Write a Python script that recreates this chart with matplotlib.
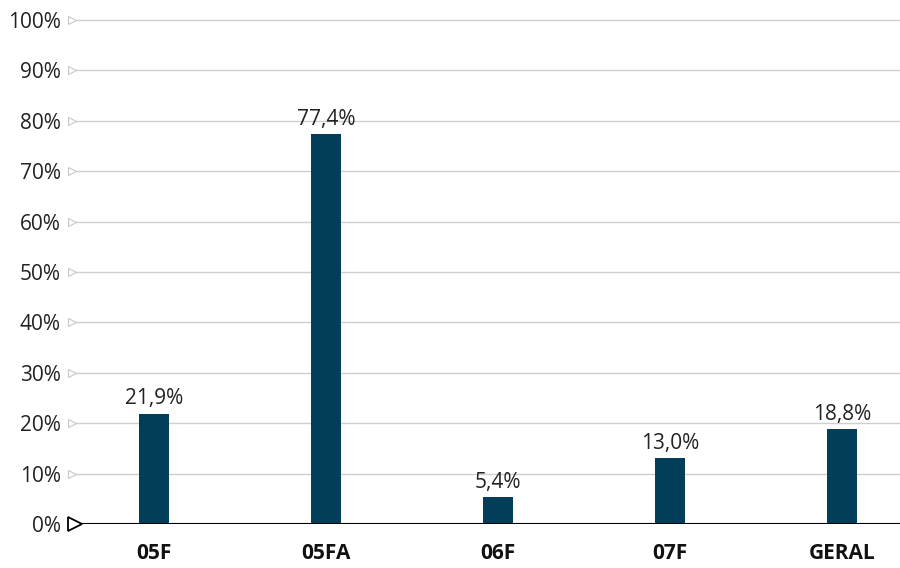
import matplotlib.pyplot as plt
from matplotlib import font_manager
from matplotlib.transforms import blended_transform_factory

# --------------------------------------------------------
# Data
# --------------------------------------------------------

CATEGORIES = ["05F", "05FA", "06F", "07F", "GERAL"]
VALUES = [21.9, 77.4, 5.4, 13.0, 18.8]
Y_TICKS = [0, 10, 20, 30, 40, 50, 60, 70, 80, 90, 100]

BAR_COLOR = "#023d59"
GRID_COLOR = "#cfcfcf"

names = {f.name for f in font_manager.fontManager.ttflist}
FONT = "Liberation Sans Narrow" if "Liberation Sans Narrow" in names else "Open Sans"
plt.rcParams["font.family"] = [FONT, "DejaVu Sans"]


def pct(v):
    return f"{v:.1f}".replace(".", ",") + "%"


fig = plt.figure(figsize=(9, 5.68), dpi=100)

ax_left = 76 / 900
ax_bottom = (568 - 524) / 568
ax_height = 504 / 568 * 1.01
ax = fig.add_axes([ax_left, ax_bottom, 1 - ax_left, ax_height])

x = list(range(len(CATEGORIES)))
bars = ax.bar(x, VALUES, width=0.175, color=BAR_COLOR, zorder=3)

for rect, v in zip(bars, VALUES):
    ax.annotate(pct(v), (rect.get_x() + rect.get_width() / 2, v),
                xytext=(0, 3), textcoords="offset points",
                ha="center", va="bottom", fontsize=15, color="#222222")

ax.set_xlim(-78 / 172, -78 / 172 + 824 / 172)
ax.set_ylim(0, 101)

ax.set_xticks(x)
ax.set_xticklabels(CATEGORIES, fontsize=15, fontweight="bold", color="#111111")
ax.set_yticks(Y_TICKS)
ax.set_yticklabels([f"{t}%" for t in Y_TICKS], fontsize=15, color="#222222")
ax.tick_params(axis="y", length=0, pad=11)
ax.tick_params(axis="x", length=0, pad=14)

for t in Y_TICKS[1:]:
    ax.axhline(t, color=GRID_COLOR, lw=1, zorder=1, clip_on=False)
ax.axhline(0, color="black", lw=1.5, zorder=4)

for s in ax.spines.values():
    s.set_visible(False)

# hollow triangle markers at each gridline
trans = blended_transform_factory(ax.transAxes, ax.transData)
ax.plot([-4 / 824] * (len(Y_TICKS) - 1), Y_TICKS[1:], ls="none", marker=">",
        ms=6, mfc="white", mec="#c8c8c8", mew=0.8, transform=trans, clip_on=False)
ax.plot([-1 / 824], [0], ls="none", marker=">", ms=10.5, mfc="white", mec="black",
        mew=1.3, transform=trans, clip_on=False, zorder=5)

fig.savefig("out.png", dpi=100)
